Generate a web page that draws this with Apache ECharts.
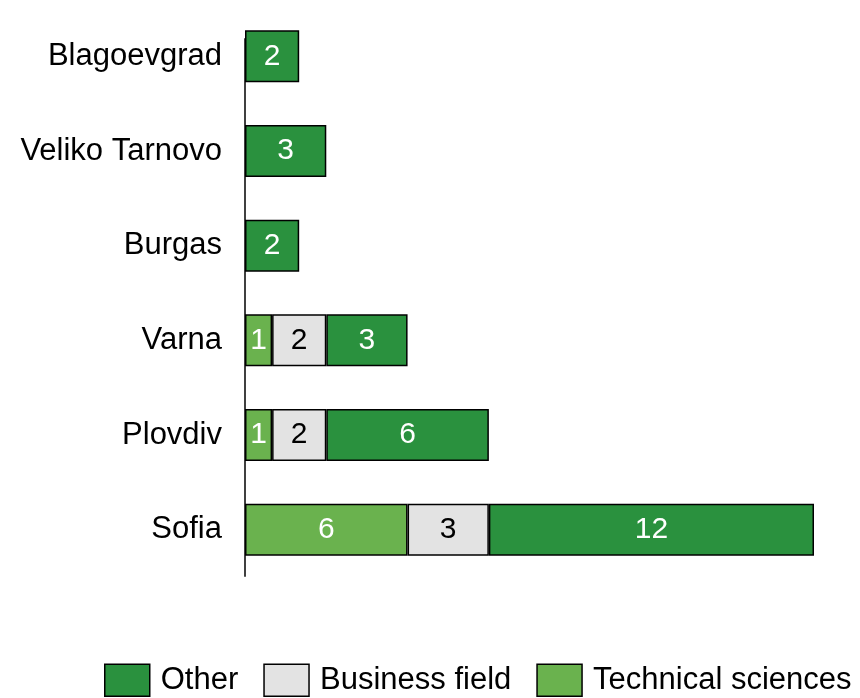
<!DOCTYPE html>
<html><head><meta charset="utf-8">
<script src="https://cdn.jsdelivr.net/npm/echarts@6/dist/echarts.min.js"></script>
<style>html,body{margin:0;padding:0;background:#fff}#c{width:860px;height:698px}</style>
</head><body><div id="c"></div>
<script>
var categories = ['Sofia','Plovdiv','Varna','Burgas','Veliko Tarnovo','Blagoevgrad'];
var technical = [6, 1, 1, null, null, null];
var business = [3, 2, 2, null, null, null];
var other = [12, 6, 3, 2, 3, 2];

var chart = echarts.init(document.getElementById('c'));
var font = '"Liberation Sans", Arial, sans-serif';
function mk(name, data, color, labelColor) {
  return {
    name: name, type: 'bar', stack: 'total', data: data, barWidth: 52,
    itemStyle: {color: color, borderColor: '#000', borderWidth: 1.5},
    label: {show: true, position: 'inside', color: labelColor, fontSize: 30, fontFamily: font},
    emphasis: {disabled: true}
  };
}
chart.setOption({
  animation: false,
  textStyle: {fontFamily: font},
  grid: {left: 245, right: 46, top: 9, bottom: 121, containLabel: false},
  xAxis: {type: 'value', min: 0, max: 21, show: false},
  yAxis: {
    type: 'category', data: categories,
    axisLine: {show: false},
    axisTick: {show: false},
    axisLabel: {color: '#000', fontSize: 31, margin: 23, fontFamily: font}
  },
  legend: {
    data: ['Other', 'Business field', 'Technical sciences'],
    left: 104, bottom: 1, itemWidth: 45, itemHeight: 32, itemGap: 25,
    icon: 'rect', padding: 0,
    textStyle: {fontSize: 31, color: '#000', fontFamily: font, padding: [0,0,0,6]},
    itemStyle: {borderColor: '#000', borderWidth: 1.5}
  },
  series: [
    mk('Technical sciences', technical, '#6ab24e', '#fff'),
    mk('Business field', business, '#e3e3e3', '#000'),
    mk('Other', other, '#2a913e', '#fff')
  ]
});
var x0 = chart.convertToPixel({xAxisIndex: 0}, 0);
var yBottom = chart.convertToPixel({yAxisIndex: 0}, 'Sofia') + 47;
var yTop = chart.convertToPixel({yAxisIndex: 0}, 'Blagoevgrad') - 18;
chart.setOption({
  graphic: [{
    type: 'line', z: 10,
    shape: {x1: x0, y1: yTop, x2: x0, y2: yBottom},
    style: {stroke: '#000', lineWidth: 1.5}
  }]
});
</script></body></html>
